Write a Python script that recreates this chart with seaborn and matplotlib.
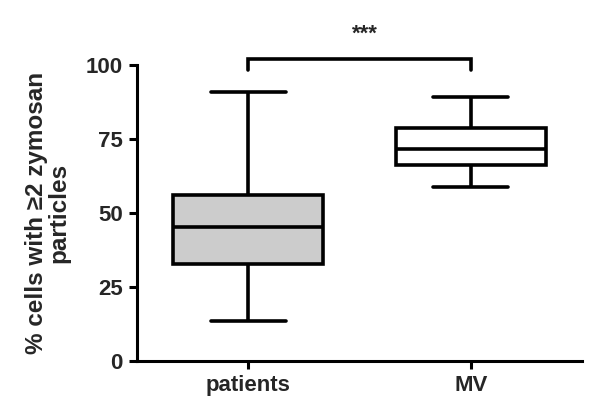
import matplotlib
matplotlib.use('Agg')
import matplotlib.pyplot as plt
import seaborn as sns
import pandas as pd

# Data (five-number summaries: min, Q1, median, Q3, max)
groups = ['patients', 'MV']
patients_values = [13.5, 32.8, 45.3, 56.1, 90.9]
mv_values = [58.8, 66.2, 71.6, 78.7, 89.2]
fill_colors = ['#cccccc', '#ffffff']
y_ticks = [0, 25, 50, 75, 100]
significance = '***'

df = pd.DataFrame({
    'group': ['patients'] * len(patients_values) + ['MV'] * len(mv_values),
    'value': patients_values + mv_values,
})

sns.set_style('ticks')
plt.rcParams['font.family'] = ['Liberation Sans', 'DejaVu Sans']

fig = plt.figure(figsize=(6, 4.17), dpi=100)
ax = fig.add_axes([0.228, 0.134, 0.742, 0.710])

sns.boxplot(data=df, x='group', y='value', order=groups, hue='group',
            hue_order=groups, palette=fill_colors, saturation=1,
            whis=(0, 100), width=0.675, linewidth=2.6, linecolor='black',
            fliersize=0, legend=False, ax=ax)

ax.set_xlim(-0.5, 1.5)
ax.set_ylim(0, 100)
ax.set_yticks(y_ticks)
ax.set_yticklabels([str(t) for t in y_ticks])
sns.despine(ax=ax)
for s in ['left', 'bottom']:
    ax.spines[s].set_linewidth(2.2)
    ax.spines[s].set_color('black')
ax.tick_params(axis='both', width=2.2, length=6, color='black',
               labelsize=16, pad=4)
for lab in ax.get_xticklabels() + ax.get_yticklabels():
    lab.set_fontweight('bold')
ax.set_xlabel('')
ax.set_ylabel('% cells with \u22652 zymosan\nparticles', fontsize=17.5,
              fontweight='bold', labelpad=11, linespacing=1.0)

# significance bracket
ax.plot([0, 0, 1, 1], [98.3, 102, 102, 98.3], color='black', lw=2.6,
        clip_on=False, solid_joinstyle='miter')
ax.text(0.527, 108.5, significance, ha='center', va='baseline', fontsize=16,
        fontweight='bold', clip_on=False)

fig.savefig('out.png', dpi=100)
